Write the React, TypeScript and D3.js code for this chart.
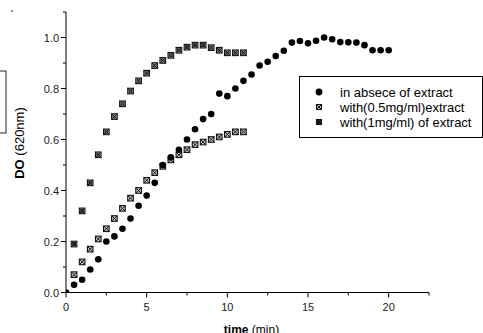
import React from 'react';
import * as d3 from 'd3';

// time (min) for each series
const timeA = [0, 0.5, 1, 1.5, 2, 2.5, 3, 3.5, 4, 4.5, 5, 5.5, 6, 6.5, 7, 7.5, 8, 8.5, 9, 9.5, 10, 10.5, 11, 11.5, 12, 12.5, 13, 13.5, 14, 14.5, 15, 15.5, 16, 16.5, 17, 17.5, 18, 18.5, 19, 19.5, 20];
const absence = [0, 0.03, 0.05, 0.09, 0.13, 0.2, 0.22, 0.25, 0.29, 0.34, 0.38, 0.43, 0.5, 0.53, 0.56, 0.6, 0.64, 0.68, 0.7, 0.78, 0.77, 0.8, 0.83, 0.855, 0.89, 0.905, 0.927, 0.948, 0.98, 0.986, 0.977, 0.987, 1.0, 0.993, 0.982, 0.981, 0.98, 0.97, 0.95, 0.95, 0.95];

const timeB = [0.5, 1, 1.5, 2, 2.5, 3, 3.5, 4, 4.5, 5, 5.5, 6, 6.5, 7, 7.5, 8, 8.5, 9, 9.5, 10, 10.5, 11];
const half = [0.07, 0.12, 0.17, 0.21, 0.25, 0.29, 0.33, 0.37, 0.4, 0.44, 0.47, 0.495, 0.52, 0.54, 0.56, 0.58, 0.59, 0.6, 0.61, 0.62, 0.63, 0.63];
const one = [0.19, 0.32, 0.43, 0.54, 0.63, 0.69, 0.74, 0.79, 0.83, 0.86, 0.89, 0.91, 0.93, 0.95, 0.962, 0.97, 0.97, 0.96, 0.95, 0.94, 0.94, 0.94];

const legendLabels = ['in absece of extract', 'with(0.5mg/ml)extract', 'with(1mg/ml) of extract'];
const xMajor = [0, 5, 10, 15, 20];
const xMinor = [2.5, 7.5, 12.5, 17.5, 22.5];
const yMajor = [0, 0.2, 0.4, 0.6, 0.8, 1.0];
const yMinor = [0.1, 0.3, 0.5, 0.7, 0.9, 1.1];

const FONT = '"Liberation Sans", Arial, Helvetica, sans-serif';

function Circle({ x, y }: { x: number; y: number }) {
  return <circle cx={x} cy={y} r={3.3} fill="#000" />;
}

function BoxX({ x, y, ring = false, s = 2.8 }: { x: number; y: number; ring?: boolean; s?: number }) {
  return (
    <g transform={`translate(${x},${y})`}>
      <rect x={-s} y={-s} width={2 * s} height={2 * s} fill="#c8c8c8" stroke="#111" strokeWidth={1.1} />
      <line x1={-s} y1={-s} x2={s} y2={s} stroke="#111" strokeWidth={1} />
      <line x1={-s} y1={s} x2={s} y2={-s} stroke="#111" strokeWidth={1} />
      {ring && <circle r={1.6} fill="none" stroke="#111" strokeWidth={0.9} />}
    </g>
  );
}

export default function App() {
  const x = d3.scaleLinear().domain([0, 22.5]).range([66, 429]);
  const y = d3.scaleLinear().domain([0, 1.1]).range([292.5, 12]);
  const [x0, x1] = x.range();
  const [y0, y1] = y.range();
  const fmt = d3.format('.1f');

  return (
    <svg width={483} height={333} style={{ position: 'absolute', left: 0, top: 0, background: '#fff' }} fontFamily={FONT}>
      <defs>
        <clipPath id="plot">
          <rect x={x0} y={y1} width={x1 - x0} height={y0 - y1} />
        </clipPath>
      </defs>

      {/* cropped bits from the source page */}
      <rect x={-20} y={71} width={26} height={62} fill="none" stroke="#222" strokeWidth={1} />
      <line x1={11} x2={13} y1={11} y2={11} stroke="#222" strokeWidth={1} />

      {/* data */}
      <g clipPath="url(#plot)">
        {timeB.map((t, i) => <BoxX key={'c' + i} x={x(t)} y={y(one[i])} ring />)}
        {timeB.map((t, i) => <BoxX key={'b' + i} x={x(t)} y={y(half[i])} />)}
        {timeA.map((t, i) => <Circle key={'a' + i} x={x(t)} y={y(absence[i])} />)}
      </g>

      {/* axes */}
      <line x1={x0} x2={x1} y1={y0} y2={y0} stroke="#000" strokeWidth={1} />
      <line x1={x0} x2={x0} y1={y0} y2={y1} stroke="#000" strokeWidth={1} />
      {xMajor.map((t) => (
        <g key={'xm' + t}>
          <line x1={x(t)} x2={x(t)} y1={y0} y2={y0 + 5} stroke="#000" />
          <text x={x(t)} y={y0 + 18.5} textAnchor="middle" fontSize={11} fill="#222">{t}</text>
        </g>
      ))}
      {xMinor.map((t) => (
        <line key={'xn' + t} x1={x(t)} x2={x(t)} y1={y0} y2={y0 + 3} stroke="#000" />
      ))}
      {yMajor.map((t) => (
        <g key={'ym' + t}>
          <line x1={x0 - 5} x2={x0} y1={y(t)} y2={y(t)} stroke="#000" />
          <text x={x0 - 7} y={y(t) + 4} textAnchor="end" fontSize={11} fill="#222">{fmt(t)}</text>
        </g>
      ))}
      {yMinor.map((t) => (
        <line key={'yn' + t} x1={x0 - 3} x2={x0} y1={y(t)} y2={y(t)} stroke="#000" />
      ))}

      {/* axis titles */}
      <text x={(x0 + x1) / 2 + 4} y={334} textAnchor="middle" fontSize={12} fill="#000">
        <tspan fontWeight="bold">time</tspan> (min)
      </text>
      <text transform={`translate(24,${143}) rotate(-90)`} textAnchor="middle" fontSize={13} fill="#000">
        <tspan fontWeight="bold">DO</tspan> (620nm)
      </text>

      {/* legend */}
      <rect x={299.5} y={76.5} width={183} height={61} fill="#fff" stroke="#000" strokeWidth={1} />
      {legendLabels.map((l, i) => {
        const ly = 92 + i * 15;
        return (
          <g key={l}>
            {i === 0 && <circle cx={319} cy={ly} r={3.4} fill="#000" />}
            {i === 1 && <BoxX x={319} y={ly} s={2.5} />}
            {i === 2 && <BoxX x={319} y={ly} s={2.5} ring />}
            <text x={340} y={ly + 4.5} fontSize={13} fill="#000">{l}</text>
          </g>
        );
      })}
    </svg>
  );
}
